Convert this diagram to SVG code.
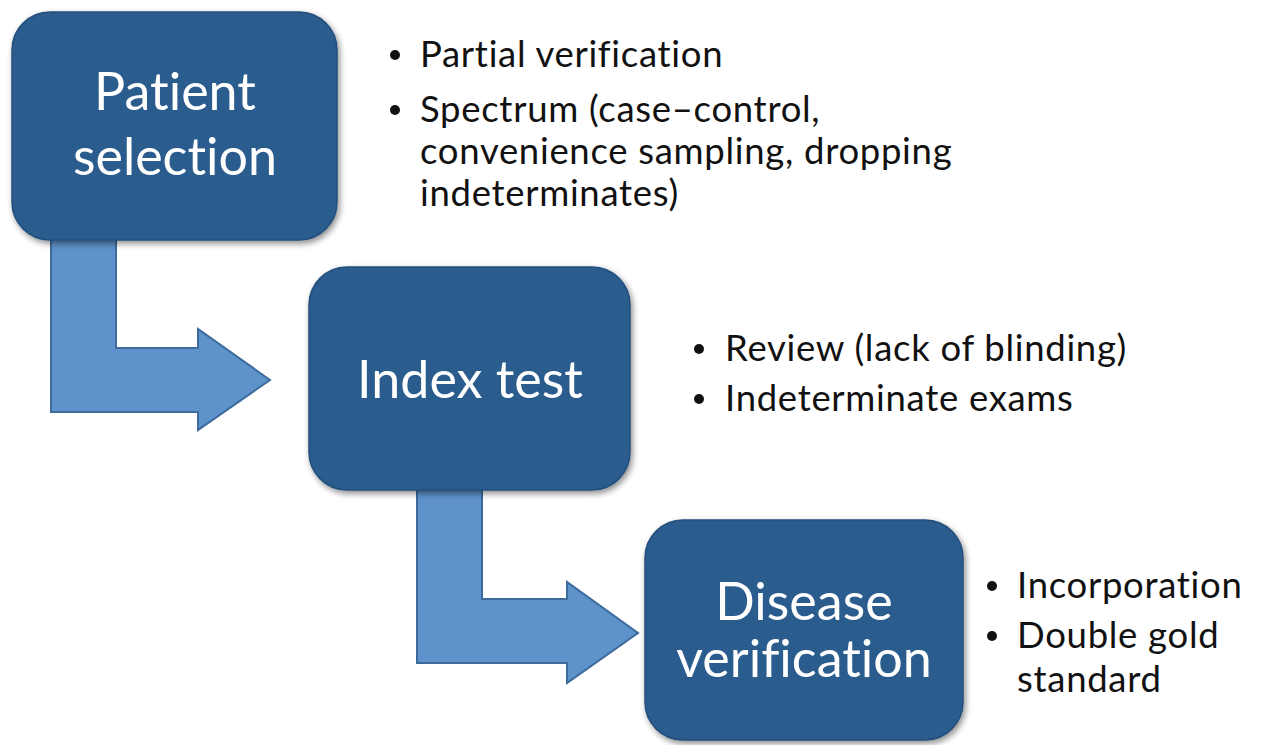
<svg xmlns="http://www.w3.org/2000/svg" width="1264" height="745" viewBox="0 0 1264 745">
<defs>
<filter id="sh" x="-10%" y="-10%" width="125%" height="125%">
<feGaussianBlur in="SourceAlpha" stdDeviation="3"/>
<feOffset dx="2" dy="3" result="b"/>
<feComponentTransfer><feFuncA type="linear" slope="0.45"/></feComponentTransfer>
<feMerge><feMergeNode/><feMergeNode in="SourceGraphic"/></feMerge>
</filter>
</defs>
<style>
.box{fill:#2B5B8E;stroke:#244F7C;stroke-width:1.5;filter:url(#sh)}
.arrow{fill:#5E92CB;stroke:#3D6B9C;stroke-width:2;stroke-linejoin:miter}
.bt{font-family:Lato,"Open Sans",sans-serif;font-size:52px;fill:#FFFFFF;text-anchor:middle;font-variant-ligatures:none}
.li{font-family:Lato,"Open Sans",sans-serif;font-size:36.5px;letter-spacing:0.7px;fill:#111111;font-variant-ligatures:none}
.dot{fill:#111111}
</style>
<rect width="1264" height="745" fill="#FFFFFF"/>
<g id="connectors">
<path class="arrow" d="M51,236 L116,236 L116,348 L198,348 L198,329 L270,380 L198,430 L198,412 L51,412 Z"/>
<path class="arrow" d="M417,486 L482,486 L482,599 L567,599 L567,582 L638,633 L567,683 L567,663 L417,663 Z"/>
</g>
<g id="patient-selection">
<rect class="box" x="12" y="12" width="325" height="228" rx="38"/>
<text class="bt" x="175" y="110">Patient</text>
<text class="bt" x="175" y="175">selection</text>
</g>
<g id="index-test">
<rect class="box" x="309" y="267" width="321" height="223" rx="38"/>
<text class="bt" x="470" y="398">Index test</text>
</g>
<g id="disease-verification">
<rect class="box" x="645" y="520" width="318" height="220" rx="38"/>
<text class="bt" x="804" y="620">Disease</text>
<text class="bt" x="804" y="677">verification</text>
</g>
<g id="notes-patient">
<circle class="dot" cx="395" cy="55" r="5"/>
<text class="li" x="420" y="67">Partial verification</text>
<circle class="dot" cx="395" cy="110" r="5"/>
<text class="li" x="420" y="122">Spectrum (case–control,</text>
<text class="li" x="420" y="164">convenience sampling, dropping</text>
<text class="li" x="420" y="206">indeterminates)</text>
</g>
<g id="notes-index">
<circle class="dot" cx="699" cy="349" r="5"/>
<text class="li" x="725" y="361">Review (lack of blinding)</text>
<circle class="dot" cx="699" cy="399" r="5"/>
<text class="li" x="725" y="411">Indeterminate exams</text>
</g>
<g id="notes-disease">
<circle class="dot" cx="992" cy="586" r="5"/>
<text class="li" x="1017" y="598">Incorporation</text>
<circle class="dot" cx="992" cy="636" r="5"/>
<text class="li" x="1017" y="648">Double gold</text>
<text class="li" x="1017" y="692">standard</text>
</g>
</svg>
